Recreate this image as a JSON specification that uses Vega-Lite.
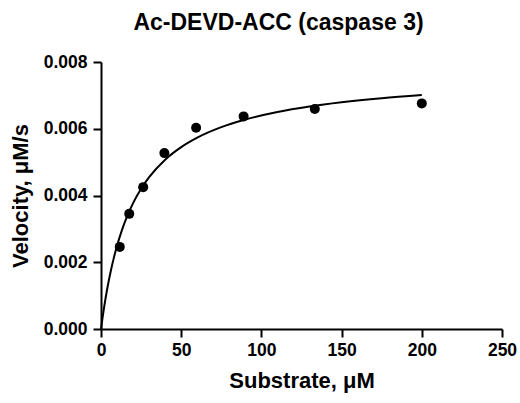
{
  "$schema": "https://vega.github.io/schema/vega-lite/v6.json",
  "width": 401,
  "height": 267,
  "autosize": {"type": "none"},
  "padding": {"left": 101, "top": 62, "right": 18, "bottom": 74},
  "background": "white",
  "title": {
    "text": "Ac-DEVD-ACC (caspase 3)",
    "font": "Liberation Sans",
    "fontSize": 23,
    "fontWeight": "bold",
    "color": "black",
    "anchor": "middle",
    "dx": -23,
    "offset": 18
  },
  "config": {
    "view": {"stroke": null},
    "axis": {
      "grid": false,
      "domainColor": "black",
      "domainWidth": 2,
      "tickColor": "black",
      "tickWidth": 2,
      "tickSize": 8,
      "labelFont": "Liberation Sans",
      "labelFontWeight": "bold",
      "labelFontSize": 17.5,
      "labelColor": "black",
      "labelFlush": false,
      "labelOverlap": false,
      "labelPadding": 4,
      "titleFont": "Liberation Sans",
      "titleFontWeight": "bold",
      "titleFontSize": 22,
      "titleColor": "black"
    }
  },
  "datasets": {
    "points": [
      {"substrate": 11.7, "velocity": 0.00246},
      {"substrate": 17.6, "velocity": 0.00345},
      {"substrate": 26.3, "velocity": 0.00425},
      {"substrate": 39.5, "velocity": 0.00527},
      {"substrate": 59.3, "velocity": 0.00603},
      {"substrate": 88.9, "velocity": 0.00637},
      {"substrate": 133.3, "velocity": 0.00659},
      {"substrate": 200, "velocity": 0.00676}
    ],
    "fit": [
      {"substrate": 0, "velocity": 0},
      {"substrate": 0.5, "velocity": 0.000179},
      {"substrate": 1, "velocity": 0.000351},
      {"substrate": 2, "velocity": 0.000671},
      {"substrate": 4, "velocity": 0.001235},
      {"substrate": 6, "velocity": 0.001716},
      {"substrate": 8, "velocity": 0.002131},
      {"substrate": 10, "velocity": 0.002492},
      {"substrate": 13, "velocity": 0.002955},
      {"substrate": 16, "velocity": 0.003342},
      {"substrate": 20, "velocity": 0.003771},
      {"substrate": 25, "velocity": 0.004203},
      {"substrate": 30, "velocity": 0.00455},
      {"substrate": 40, "velocity": 0.005074},
      {"substrate": 50, "velocity": 0.00545},
      {"substrate": 60, "velocity": 0.005734},
      {"substrate": 75, "velocity": 0.006048},
      {"substrate": 90, "velocity": 0.006278},
      {"substrate": 110, "velocity": 0.006503},
      {"substrate": 130, "velocity": 0.006668},
      {"substrate": 150, "velocity": 0.006794},
      {"substrate": 175, "velocity": 0.006916},
      {"substrate": 200, "velocity": 0.00701}
    ]
  },
  "layer": [
    {
      "data": {"name": "fit"},
      "mark": {"type": "line", "color": "black", "strokeWidth": 2, "interpolate": "monotone"},
      "encoding": {
        "x": {
          "field": "substrate",
          "type": "quantitative",
          "scale": {"domain": [0, 250], "nice": false},
          "axis": {"values": [0, 50, 100, 150, 200, 250], "title": "Substrate, μM", "titlePadding": 12}
        },
        "y": {
          "field": "velocity",
          "type": "quantitative",
          "scale": {"domain": [0, 0.008], "nice": false},
          "axis": {"values": [0, 0.002, 0.004, 0.006, 0.008], "format": ".3f", "title": "Velocity, μM/s", "titlePadding": 11, "labelPadding": 6}
        }
      }
    },
    {
      "data": {"name": "points"},
      "mark": {"type": "point", "filled": true, "color": "black", "opacity": 1, "size": 100},
      "encoding": {
        "x": {"field": "substrate", "type": "quantitative"},
        "y": {"field": "velocity", "type": "quantitative"}
      }
    }
  ]
}
